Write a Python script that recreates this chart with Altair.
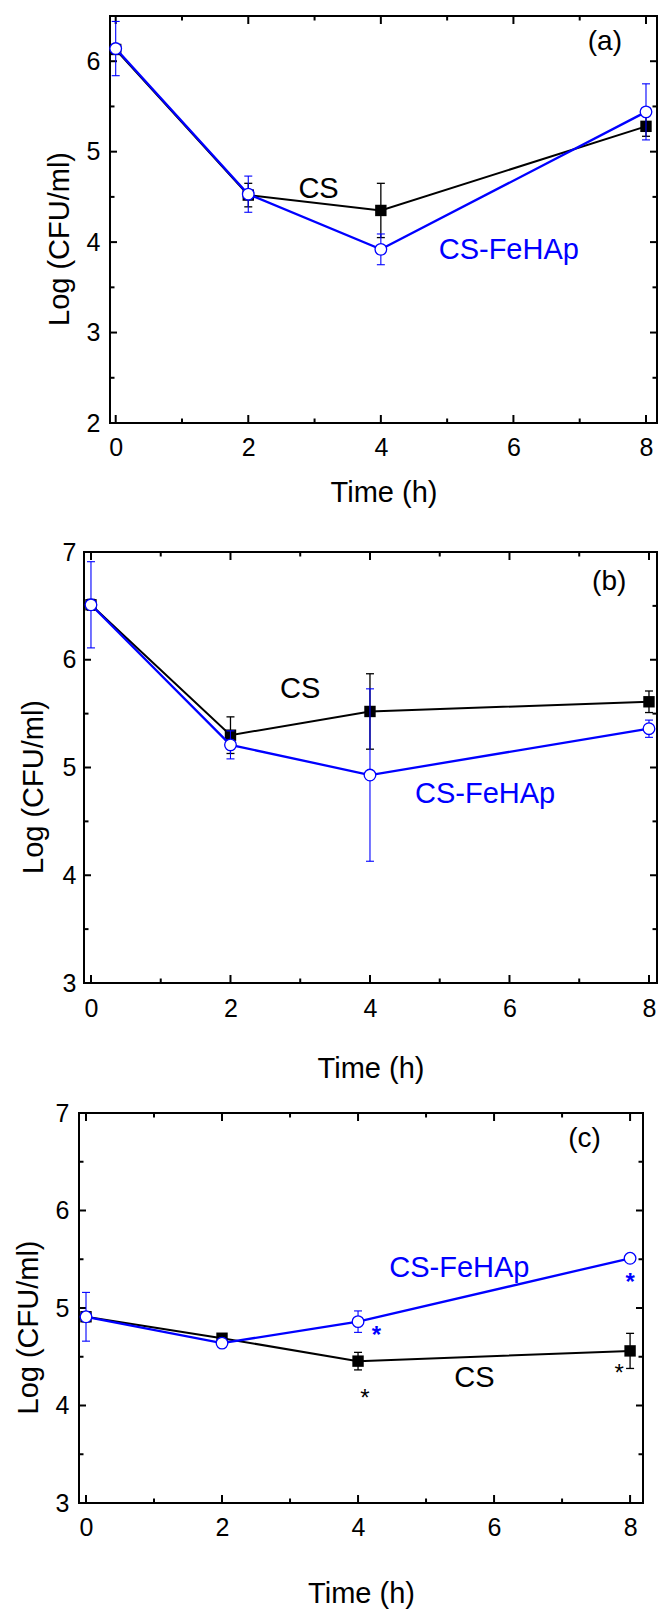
import altair as alt
import pandas as pd

FONT = "Liberation Sans"
BLUE = "#0000FF"

TIME = [0, 2, 4, 8]

# Panel (a)
A_CS = [6.13, 4.52, 4.35, 5.28]
A_CS_ERR = [0.05, 0.13, 0.30, 0.11]
A_FE = [6.14, 4.53, 3.92, 5.44]
A_FE_ERR = [0.30, 0.20, 0.17, 0.31]

# Panel (b)
B_CS = [6.51, 5.30, 5.52, 5.61]
B_CS_ERR = [0.05, 0.17, 0.35, 0.10]
B_FE = [6.51, 5.21, 4.93, 5.36]
B_FE_ERR = [0.40, 0.13, 0.80, 0.08]

# Panel (c)
C_CS = [4.91, 4.69, 4.455, 4.56]
C_CS_ERR = [0.05, 0.02, 0.09, 0.18]
C_FE = [4.91, 4.64, 4.86, 5.51]
C_FE_ERR = [0.25, 0.03, 0.11, 0.03]

X_MAJOR = [0, 2, 4, 6, 8]
X_MINOR = [1, 3, 5, 7]
Y_MAJOR_A = [2, 3, 4, 5, 6]
Y_MINOR_A = [2.5, 3.5, 4.5, 5.5]
Y_MAJOR_BC = [3, 4, 5, 6, 7]
Y_MINOR_BC = [3.5, 4.5, 5.5, 6.5]

NOTES_A = [("CS", 3.06, 4.61, "black"), ("CS-FeHAp", 5.93, 3.94, BLUE), ("(a)", 7.38, 6.24, "black")]
NOTES_B = [("CS", 3.0, 5.75, "black"), ("CS-FeHAp", 5.65, 4.77, BLUE), ("(b)", 7.43, 6.74, "black")]
NOTES_C = [("CS-FeHAp", 5.49, 5.43, BLUE), ("CS", 5.71, 4.30, "black"), ("(c)", 7.33, 6.75, "black")]
STARS_C = [("*", 4.27, 4.78, BLUE), ("*", 8.0, 5.33, BLUE), ("*", 4.10, 4.14, "black"), ("*", 7.84, 4.39, "black")]

LEFT_EXTENT = 71  # distance from common panel origin to chart's left edge


def panel(cs, cs_err, fe, fe_err, xdom, ydom, x0, W, H, ymaj, ymin, notes, stars,
          T, B, ylabpad, ytitlepad, xlabpad, xtitlepad):
    df = pd.DataFrame({
        "t": TIME,
        "cs": cs,
        "cs_lo": [m - e for m, e in zip(cs, cs_err)],
        "cs_hi": [m + e for m, e in zip(cs, cs_err)],
        "fe": fe,
        "fe_lo": [m - e for m, e in zip(fe, fe_err)],
        "fe_hi": [m + e for m, e in zip(fe, fe_err)],
    })
    xs = alt.Scale(domain=xdom, range=[x0, W], nice=False, zero=False)
    ys = alt.Scale(domain=ydom, nice=False, zero=False)
    xaxis = alt.Axis(
        values=X_MAJOR, title="Time (h)", format="d", ticks=False, tickSize=0,
        domain=False, grid=False, labelFontSize=25, labelPadding=xlabpad,
        titleFontSize=29, titleFontWeight="normal", titlePadding=xtitlepad,
        titleX=(x0 + W) / 2, labelFont=FONT, titleFont=FONT,
        labelColor="black", titleColor="black")
    yaxis = alt.Axis(
        values=ymaj, title="Log (CFU/ml)", format="d", ticks=False, tickSize=0,
        domain=False, grid=False, labelFontSize=25, labelPadding=ylabpad,
        titleFontSize=29, titleFontWeight="normal", titlePadding=ytitlepad,
        titleY=H / 2 + 19, offset=-x0, labelFont=FONT, titleFont=FONT,
        labelColor="black", titleColor="black")

    def X(f):
        return alt.X(f + ":Q", scale=xs, axis=xaxis)

    def Y(f):
        return alt.Y(f + ":Q", scale=ys, axis=yaxis)

    base = alt.Chart(df)
    one = alt.Chart(pd.DataFrame({"k": [0]}))
    layers = []

    # frame
    fr = dict(color="black", strokeWidth=2, strokeCap="square")
    layers.append(one.mark_rule(**fr).encode(x=alt.value(x0), x2=alt.value(x0), y=alt.value(0), y2=alt.value(H)))
    layers.append(one.mark_rule(**fr).encode(x=alt.value(W), x2=alt.value(W), y=alt.value(0), y2=alt.value(H)))
    layers.append(one.mark_rule(**fr).encode(x=alt.value(x0), x2=alt.value(W), y=alt.value(0), y2=alt.value(0)))
    layers.append(one.mark_rule(**fr).encode(x=alt.value(x0), x2=alt.value(W), y=alt.value(H), y2=alt.value(H)))

    # inward ticks on all four sides
    def xticks(vals, ln):
        c = alt.Chart(pd.DataFrame({"v": vals}))
        return [
            c.mark_rule(color="black", strokeWidth=2).encode(x=X("v"), y=alt.value(H), y2=alt.value(H - ln)),
            c.mark_rule(color="black", strokeWidth=2).encode(x=X("v"), y=alt.value(0), y2=alt.value(ln)),
        ]

    def yticks(vals, ln):
        c = alt.Chart(pd.DataFrame({"v": vals}))
        return [
            c.mark_rule(color="black", strokeWidth=2).encode(y=Y("v"), x=alt.value(x0), x2=alt.value(x0 + ln)),
            c.mark_rule(color="black", strokeWidth=2).encode(y=Y("v"), x=alt.value(W), x2=alt.value(W - ln)),
        ]

    layers += xticks(X_MAJOR, 8) + xticks(X_MINOR, 4.5)
    layers += yticks(ymaj, 7) + yticks(ymin, 4.5)

    # CS series
    layers.append(base.mark_line(color="black", strokeWidth=2).encode(x=X("t"), y=Y("cs")))
    layers.append(base.mark_rule(color="black", strokeWidth=1.3).encode(x=X("t"), y=Y("cs_lo"), y2="cs_hi:Q"))
    for f in ("cs_lo", "cs_hi"):
        layers.append(base.mark_tick(orient="horizontal", color="black", size=8,
                                     thickness=1.3, opacity=1).encode(x=X("t"), y=Y(f)))
    layers.append(base.mark_point(shape="square", filled=True, color="black", size=130,
                                  opacity=1).encode(x=X("t"), y=Y("cs")))
    # CS-FeHAp series
    layers.append(base.mark_line(color=BLUE, strokeWidth=2.3).encode(x=X("t"), y=Y("fe")))
    layers.append(base.mark_rule(color=BLUE, strokeWidth=1.1).encode(x=X("t"), y=Y("fe_lo"), y2="fe_hi:Q"))
    for f in ("fe_lo", "fe_hi"):
        layers.append(base.mark_tick(orient="horizontal", color=BLUE, size=8,
                                     thickness=1.1, opacity=1).encode(x=X("t"), y=Y(f)))
    layers.append(base.mark_point(shape="circle", filled=True, fill="white", stroke=BLUE,
                                  strokeWidth=1.3, size=135, opacity=1).encode(x=X("t"), y=Y("fe")))

    # annotations
    ndf = pd.DataFrame({"txt": [n[0] for n in notes], "x": [n[1] for n in notes],
                        "y": [n[2] for n in notes], "c": [n[3] for n in notes],
                        "fs": [28 if n[0].startswith("(") else 29 for n in notes]})
    layers.append(alt.Chart(ndf).mark_text(font=FONT, baseline="middle", align="center", dy=2).encode(
        x=X("x"), y=Y("y"), text="txt:N",
        color=alt.Color("c:N", scale=None), size=alt.Size("fs:Q", scale=None)))
    if stars:
        for col, wt in ((BLUE, "bold"), ("black", "normal")):
            sel = [s for s in stars if s[3] == col]
            sdf = pd.DataFrame({"txt": [s[0] for s in sel], "x": [s[1] for s in sel],
                                "y": [s[2] for s in sel]})
            layers.append(alt.Chart(sdf).mark_text(font=FONT, fontSize=24, fontWeight=wt, color=col,
                                                   baseline="alphabetic", align="center", dy=14).encode(
                x=X("x"), y=Y("y"), text="txt:N"))

    # invisible extent marker fixing the panel's bounding box
    layers.append(one.mark_rule(opacity=0, strokeOpacity=0).encode(
        x=alt.value(-LEFT_EXTENT), x2=alt.value(-LEFT_EXTENT), y=alt.value(-T), y2=alt.value(H + B)))

    return alt.layer(*layers).properties(width=W, height=H)


pa = panel(A_CS, A_CS_ERR, A_FE, A_FE_ERR, [-0.086, 8.166], [2, 6.5], 31, 578, 407,
           Y_MAJOR_A, Y_MINOR_A, NOTES_A, None, T=8, B=97,
           ylabpad=10, ytitlepad=12, xlabpad=12, xtitlepad=18)
pb = panel(B_CS, B_CS_ERR, B_FE, B_FE_ERR, [-0.10, 8.115], [3, 7], 5, 578, 431,
           Y_MAJOR_BC, Y_MINOR_BC, NOTES_B, None, T=32, B=102,
           ylabpad=8, ytitlepad=14, xlabpad=13, xtitlepad=33)
pc = panel(C_CS, C_CS_ERR, C_FE, C_FE_ERR, [-0.103, 8.19], [3, 7], 0, 564, 390,
           Y_MAJOR_BC, Y_MINOR_BC, NOTES_C, STARS_C, T=28, B=112,
           ylabpad=10, ytitlepad=12, xlabpad=12, xtitlepad=39)

chart = alt.vconcat(pa, pb, pc, spacing=0).properties(
    padding=0
).configure_view(strokeWidth=0)

chart.save("out.html", embed_options={"renderer": "svg", "actions": False})
